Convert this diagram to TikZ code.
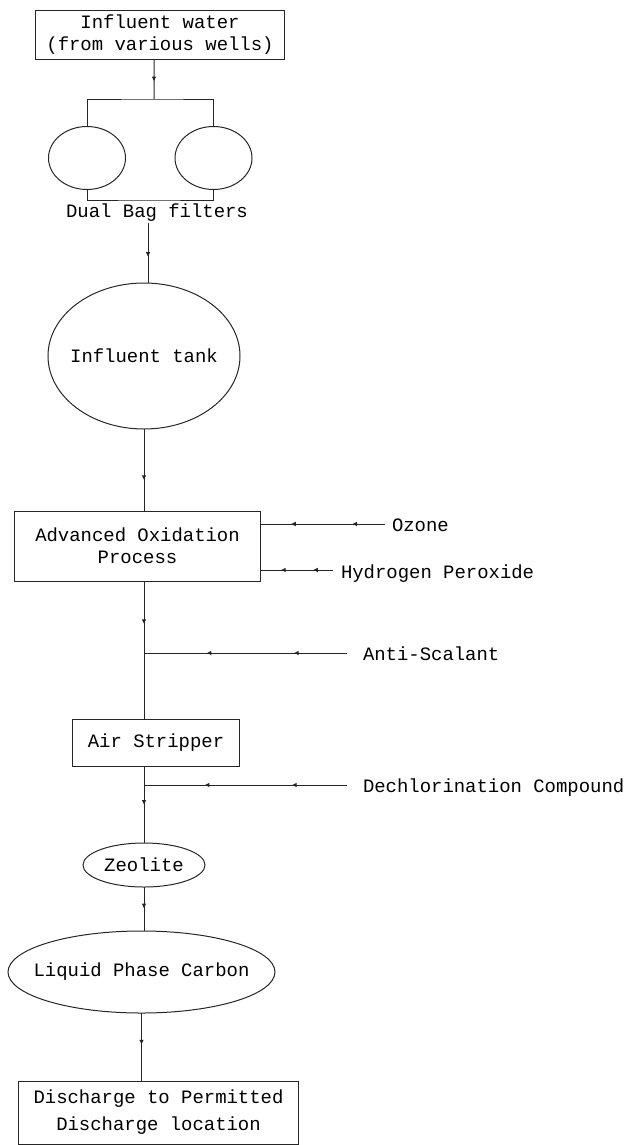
\documentclass[tikz,border=0pt]{standalone}
\usepackage{fontspec}
\setmonofont{Liberation Mono}
\usetikzlibrary{arrows.meta,shapes.geometric,decorations.markings}
\begin{document}
\begin{tikzpicture}[x=1bp,y=-1bp,
  font=\ttfamily\fontsize{19}{22}\selectfont,
  every node/.style={inner sep=0pt, outer sep=0pt},
  lw/.style={line width=1bp, draw=black!85},
  boxnode/.style={draw=black!85, line width=1bp, rectangle, align=center},
  ellnode/.style={draw=black!85, line width=1bp, ellipse},
  tiptri/.tip={Triangle[length=4.5bp,width=4bp]},
  fm/.style={postaction={decorate}, decoration={markings, mark=at position #1 with {\arrow{tiptri}}}},
  fmm/.style 2 args={postaction={decorate}, decoration={markings, mark=at position #1 with {\arrow{tiptri}}, mark=at position #2 with {\arrow{tiptri}}}},
]
\useasboundingbox (0,0) rectangle (634,1145);
\coordinate (ax) at (144,0);

% nodes
\node[boxnode, minimum width=248bp, minimum height=49bp] (infl) at (160,34.5) {Influent water\\(from various wells)};
\node[ellnode, minimum width=77bp, minimum height=63bp] (bagL) at (87,158) {};
\node[ellnode, minimum width=77bp, minimum height=63bp] (bagR) at (213.5,158) {};
\node (dual) at (157,213) {Dual Bag filters};
\node[ellnode, minimum width=192bp, minimum height=146bp, label=center:{Influent tank}] (tank) at (144,356) {};
\node[boxnode, minimum width=245bp, minimum height=70bp] (aop) at (137.5,546) {Advanced Oxidation\\Process};
\node[boxnode, minimum width=166bp, minimum height=47bp] (as) at (156,742.5) {Air Stripper};
\node[ellnode, minimum width=122bp, minimum height=44bp, label=center:{Zeolite}] (zeo) at (144,865) {};
\node[ellnode, minimum width=267bp, minimum height=82bp, label=center:{Liquid Phase Carbon}] (lpc) at (141.5,972) {};
\node[boxnode, minimum width=279bp, minimum height=63bp] (dis) at (158.5,1112.5) {Discharge to Permitted\\[5bp]Discharge location};

% side feed labels
\node[anchor=base west] (ozone) at (392,531) {Ozone};
\node[anchor=base west] (hp) at (341,578) {Hydrogen Peroxide};
\node[anchor=base west] (anti) at (363,660) {Anti-Scalant};
\node[anchor=base west] (dech) at (363,792) {Dechlorination Compound};

% coordinates
\coordinate (j1) at (154,99);
\coordinate (j2) at (148,200);
\coordinate (oz0) at (385,524);
\coordinate (hp0) at (333,570);
\coordinate (an0) at (347,653);
\coordinate (dc0) at (347,785);

% main flow
\draw[lw, fm=0.55] ([xshift=-6bp]infl.south) -- (j1);
\draw[lw] (bagL.north) |- (j1) -| (bagR.north);
\draw[lw] (bagL.south) |- (j2) -| (bagR.south);
\draw[lw, fm=0.56] ([yshift=-1bp]dual.south -| j2) -- (j2 |- tank.north);
\draw[lw, fm=0.62] (tank.south) -- (tank.south |- aop.north);
\draw[lw, fm=0.31] (aop.south -| ax) -- (as.north -| ax);
\draw[lw, fm=0.5] (as.south -| ax) -- (zeo.north);
\draw[lw, fm=0.48] (zeo.south) -- (zeo.south |- lpc.north);
\draw[lw, fm=0.46] (lpc.south) -- (lpc.south |- dis.north);

% side feeds
\draw[lw, fmm={0.26}{0.75}] (oz0) -- (oz0 -| aop.east);
\draw[lw, fmm={0.27}{0.71}] (hp0) -- (hp0 -| aop.east);
\draw[lw, fmm={0.26}{0.69}] (an0) -- (an0 -| ax);
\draw[lw, fmm={0.27}{0.7}] (dc0) -- (dc0 -| ax);
\end{tikzpicture}
\end{document}
